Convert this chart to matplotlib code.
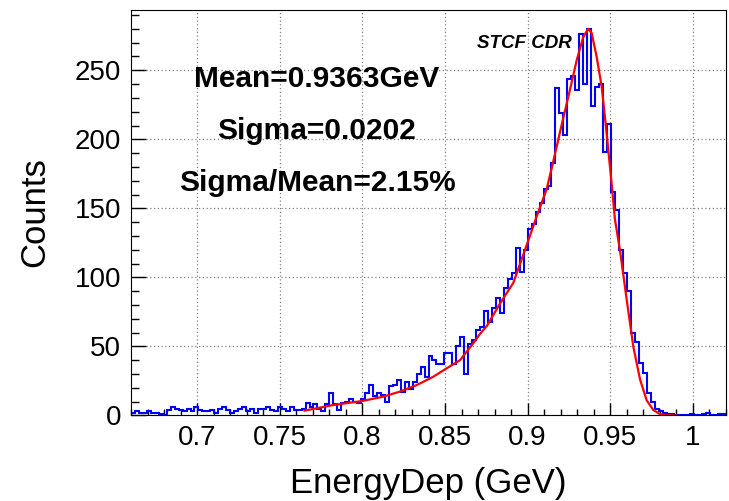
import numpy as np
import matplotlib
matplotlib.use('Agg')
import matplotlib.pyplot as plt
from matplotlib.ticker import MultipleLocator, FuncFormatter

plt.rcParams['font.family'] = ['Liberation Sans', 'DejaVu Sans']

# histogram of energy deposit, 150 bins of 0.0024 GeV from 0.66 GeV
x_start = 0.66
bin_width = 0.0024
counts = [2, 3, 2, 2, 3, 2, 2, 1, 0, 4, 6, 5, 4, 3, 5, 3, 6, 4, 3, 3, 4, 2, 5, 6, 4, 2, 3, 5, 6, 3,
          5, 2, 5, 5, 6, 4, 3, 6, 5, 3, 6, 4,
          4, 5, 9, 6, 8, 5, 3, 8, 16, 8, 4, 9, 10, 12,
          10, 9, 12, 16, 22, 14, 16, 15, 10, 21, 22, 26, 17, 24, 19, 24, 30, 35, 28, 43, 40, 37, 37,
          45, 45, 37, 50, 57, 30, 52, 55, 62, 64,
          76, 68, 78, 85, 74, 92, 99, 103,
          121, 104, 120, 135, 139, 147, 154, 164, 166, 183,
          237, 219, 203, 244, 246, 236, 276, 240, 280,
          224, 238, 240, 191, 211, 162, 149, 120, 103,
          90, 60, 53, 38, 31, 16, 10, 5, 3, 2, 1, 1, 0, 0, 0, 0, 1, 0, 0, 1, 2, 0, 0, 1, 1]
edges = x_start + bin_width * np.arange(len(counts) + 1)

# fitted curve
fit_x = [0.765, 0.782, 0.800, 0.8125, 0.8227, 0.8328, 0.8428, 0.8494, 0.859, 0.8669, 0.8711,
         0.8754, 0.8832, 0.8913, 0.8984, 0.9054, 0.9115, 0.9155, 0.9195, 0.9256, 0.9296, 0.9336,
         0.9366, 0.9387, 0.9417, 0.9448, 0.9478, 0.9508, 0.9528, 0.9558, 0.9599, 0.9639, 0.968,
         0.972, 0.976, 0.980, 0.9841, 0.9901]
fit_y = [3.5, 7.5, 10.5, 13.6, 17.3, 22, 28, 33, 40, 52, 59,
         65, 81, 96, 120, 144, 164, 184, 205, 236, 257, 274,
         280, 277, 260, 238, 204, 168, 142, 120, 84, 50, 26,
         11, 4, 1, 0.1, 0]

stats_lines = ['Mean=0.9363GeV', 'Sigma=0.0202', 'Sigma/Mean=2.15%']
stats_y = [0.809, 0.681, 0.553]

fig = plt.figure(figsize=(7.29, 5.01), dpi=100)
ax = fig.add_axes([0.1797, 0.1707, 0.8162, 0.8103])

ax.stairs(counts, edges, color='#0000ff', lw=1.5)
ax.plot(fit_x, fit_y, color='#ff0000', lw=1.6)

ax.set_xlim(0.66, 1.02)
ax.set_ylim(0, 294)
ax.xaxis.set_major_locator(MultipleLocator(0.05))
ax.xaxis.set_minor_locator(MultipleLocator(0.01))
ax.yaxis.set_major_locator(MultipleLocator(50))
ax.yaxis.set_minor_locator(MultipleLocator(10))
fmt = FuncFormatter(lambda v, p: '%g' % round(v, 4))
ax.xaxis.set_major_formatter(fmt)
ax.yaxis.set_major_formatter(fmt)

ax.tick_params(which='both', direction='in', top=False, right=False, labelsize=20, width=1)
ax.tick_params(axis='x', which='major', length=8.5, pad=7)
ax.tick_params(axis='x', which='minor', length=4.5)
ax.tick_params(axis='y', which='major', length=10.5, pad=7)
ax.tick_params(axis='y', which='minor', length=5.5)
ax.grid(which='major', color='gray', ls=(0, (1, 2)), lw=0.9)
ax.set_axisbelow(True)

for txt, yy in zip(stats_lines, stats_y):
    ax.text(0.3126, yy, txt, transform=ax.transAxes, ha='center', va='baseline',
            fontsize=21.5, fontweight='bold')
ax.text(0.5815, 0.905, 'STCF CDR', transform=ax.transAxes, ha='left', va='baseline',
        fontsize=13.5, fontweight='bold', fontstyle='italic')

fig.text(428.5 / 729, 1 - 493 / 501, 'EnergyDep (GeV)', ha='center', va='baseline', fontsize=25)
fig.text(35 / 729, 1 - 212.5 / 501, 'Counts', ha='center', va='center', rotation=90, fontsize=25)

fig.savefig('out.png', dpi=100)
